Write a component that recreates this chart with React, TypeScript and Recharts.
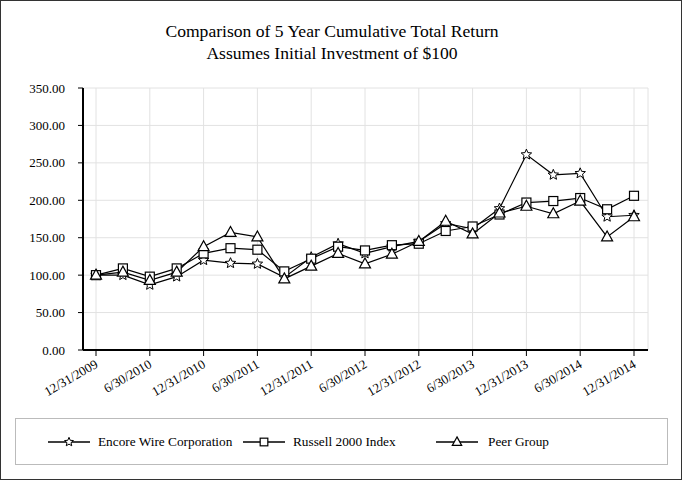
import React from 'react';
import { LineChart, Line, XAxis, YAxis, CartesianGrid } from 'recharts';

// quarter-end dates, only every other one gets a label
const quarters = [
  '12/31/2009', '3/31/2010', '6/30/2010', '9/30/2010', '12/31/2010', '3/31/2011', '6/30/2011',
  '9/30/2011', '12/31/2011', '3/31/2012', '6/30/2012', '9/30/2012', '12/31/2012', '3/31/2013',
  '6/30/2013', '9/30/2013', '12/31/2013', '3/31/2014', '6/30/2014', '9/30/2014', '12/31/2014'
];

const encore = [100, 100, 87, 98, 120, 116, 115, 97, 124, 142, 129, 138, 145, 169, 162, 189, 261, 234, 236, 178, 180];
const russell = [100, 109, 98, 109, 129, 136, 134, 105, 122, 138, 133, 140, 142, 159, 165, 181, 197, 199, 203, 188, 206];
const peer = [100, 104, 93, 104, 138, 157, 151, 95, 112, 129, 115, 128, 145, 172, 155, 183, 192, 182, 199, 151, 178];

const yTicks = [0, 50, 100, 150, 200, 250, 300, 350];

const SERIES = [
  { key: 'encore', name: 'Encore Wire Corporation', shape: 'star' },
  { key: 'russell', name: 'Russell 2000 Index', shape: 'square' },
  { key: 'peer', name: 'Peer Group', shape: 'triangle' }
];

const FONT = '"Liberation Serif", "Times New Roman", serif';

const data = quarters.map((q, i) => ({
  quarter: q,
  encore: encore[i],
  russell: russell[i],
  peer: peer[i]
}));

const starPath = (cx: number, cy: number, r: number) => {
  const pts: string[] = [];
  for (let i = 0; i < 10; i++) {
    const rad = i % 2 === 0 ? r : r * 0.45;
    const a = -Math.PI / 2 + (i * Math.PI) / 5;
    pts.push(`${cx + rad * Math.cos(a)},${cy + rad * Math.sin(a)}`);
  }
  return `M${pts.join('L')}Z`;
};

const Marker = ({ shape, cx, cy, s = 1 }: { shape: string; cx: number; cy: number; s?: number }) => {
  if (shape === 'square') {
    const h = 4.5 * s;
    return <rect x={cx - h} y={cy - h} width={2 * h} height={2 * h} fill="#fff" stroke="#000" strokeWidth={1.2} />;
  }
  if (shape === 'triangle') {
    return (
      <path
        d={`M${cx},${cy - 6 * s}L${cx + 5.5 * s},${cy + 4 * s}L${cx - 5.5 * s},${cy + 4 * s}Z`}
        fill="#fff"
        stroke="#000"
        strokeWidth={1.2}
      />
    );
  }
  return <path d={starPath(cx, cy, 5.5 * s)} fill="#fff" stroke="#000" strokeWidth={1} />;
};

const makeDot = (shape: string) => (props: any) => {
  const { cx, cy, index } = props;
  if (cx == null || cy == null) return <g key={`d-${shape}-${index}`} />;
  return <Marker key={`d-${shape}-${index}`} shape={shape} cx={cx} cy={cy} />;
};

const XTick = (props: any) => {
  const { x, y, payload } = props;
  return (
    <g transform={`translate(${x},${y})`}>
      <text
        x={0}
        y={0}
        dx={-2}
        dy={9}
        transform="rotate(-30)"
        textAnchor="end"
        fontFamily={FONT}
        fontSize={13}
        fill="#000"
      >
        {payload.value}
      </text>
    </g>
  );
};

export default function App() {
  return (
    <div
      style={{
        position: 'fixed',
        left: 0,
        top: 0,
        width: 682,
        height: 480,
        boxSizing: 'border-box',
        border: '1px solid #333',
        background: '#fff',
        fontFamily: FONT
      }}
    >
      <div style={{ position: 'absolute', left: 0, top: 19, width: 662, textAlign: 'center', fontSize: 17.6, lineHeight: '22px', color: '#000' }}>
        <div>Comparison of 5 Year Cumulative Total Return</div>
        <div>Assumes Initial Investment of $100</div>
      </div>

      <div style={{ position: 'absolute', left: -1, top: -1 }}>
        <LineChart width={682} height={410} data={data} margin={{ top: 88, right: 34, bottom: 10, left: 0 }}>
          <CartesianGrid stroke="#e2e2e2" strokeWidth={1} />
          <XAxis
            dataKey="quarter"
            interval={1}
            height={50}
            padding={{ left: 13, right: 14 }}
            tick={<XTick />}
            tickSize={6}
            tickLine={{ stroke: '#000' }}
            axisLine={{ stroke: '#000', strokeWidth: 2 }}
          />
          <YAxis
            domain={[0, 350]}
            ticks={yTicks}
            width={83}
            tickSize={5}
            tickMargin={13}
            tickFormatter={(v: number) => v.toFixed(2)}
            tick={{ fontFamily: FONT, fontSize: 13, fill: '#000' }}
            tickLine={{ stroke: '#000' }}
            axisLine={{ stroke: '#000', strokeWidth: 2 }}
          />
          {SERIES.map((s) => (
            <Line
              key={s.key}
              dataKey={s.key}
              name={s.name}
              type="linear"
              stroke="#000"
              strokeWidth={1.2}
              dot={makeDot(s.shape)}
              activeDot={false}
              isAnimationActive={false}
            />
          ))}
        </LineChart>
      </div>

      <div
        style={{
          position: 'absolute',
          left: 14,
          top: 417,
          width: 653,
          height: 47,
          boxSizing: 'border-box',
          border: '1px solid #bbb'
        }}
      />
      {SERIES.map((s, i) => {
        const iconX = [47, 242, 435][i];
        const textX = [97, 292, 487][i];
        return (
          <React.Fragment key={s.key}>
            <svg style={{ position: 'absolute', left: iconX, top: 432 }} width={42} height={18}>
              <line x1={0} y1={9} x2={42} y2={9} stroke="#000" strokeWidth={1.6} />
              <Marker shape={s.shape} cx={21} cy={9} s={0.85} />
            </svg>
            <div style={{ position: 'absolute', left: textX, top: 432, fontSize: 13.3, lineHeight: '18px', color: '#000', whiteSpace: 'nowrap' }}>
              {s.name}
            </div>
          </React.Fragment>
        );
      })}
    </div>
  );
}
